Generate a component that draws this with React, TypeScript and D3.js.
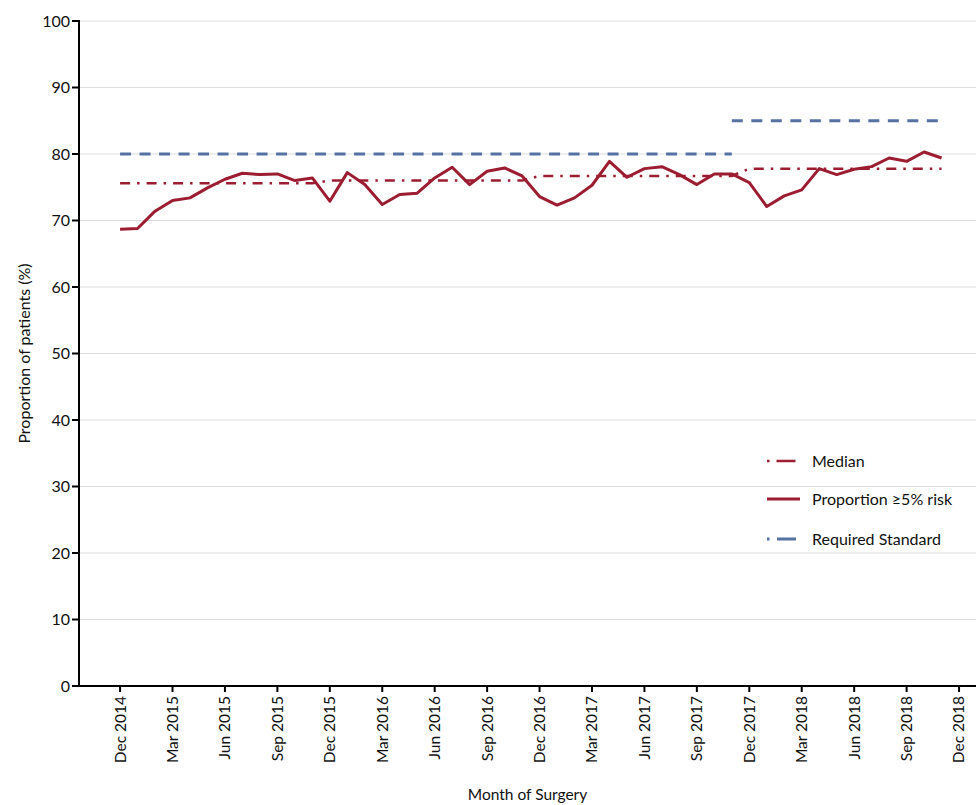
import React from "react";
import * as d3 from "d3";

// Monthly series, Dec 2014 (index 0) to Nov 2018 (index 47)
const proportion: number[] = [
  68.7, 68.8, 71.4, 73.0, 73.4, 74.9, 76.2, 77.1, 76.9, 77.0, 76.0, 76.4,
  72.9, 77.2, 75.4, 72.4, 73.9, 74.1, 76.4, 78.0, 75.4, 77.4, 77.9, 76.7,
  73.6, 72.3, 73.4, 75.3, 78.9, 76.5, 77.8, 78.1, 76.9, 75.4, 77.0, 77.0,
  75.7, 72.1, 73.7, 74.6, 77.8, 76.9, 77.7, 78.1, 79.4, 78.9, 80.3, 79.4,
];

// Median for each 12-month period (Dec–Nov)
const medianByYear: number[] = [75.6, 76.0, 76.7, 77.8];

// Required standard: [first month index, last month index, value]
const standardSegments: [number, number, number][] = [
  [0, 35, 80],
  [35, 47, 85],
];

const tickLabels: string[] = [
  "Dec 2014", "Mar 2015", "Jun 2015", "Sep 2015", "Dec 2015", "Mar 2016",
  "Jun 2016", "Sep 2016", "Dec 2016", "Mar 2017", "Jun 2017", "Sep 2017",
  "Dec 2017", "Mar 2018", "Jun 2018", "Sep 2018", "Dec 2018",
];

const yTicks: number[] = [0, 10, 20, 30, 40, 50, 60, 70, 80, 90, 100];

const W = 976;
const H = 805;
const left = 79;
const right = 976;
const top = 21;
const bottom = 686;

const RED = "#9c1c31";
const BLUE = "#5572a3";
const FONT = "Lato, 'Open Sans', sans-serif";
const MEDIAN_DASH = "10,7,2.5,7";
const STANDARD_DASH = "11,8.5";

export default function App() {
  const x = d3.scaleLinear().domain([-2.35, 48.97]).range([left, right]);
  const y = d3.scaleLinear().domain([0, 100]).range([bottom, top]);

  const line = d3
    .line<[number, number]>()
    .x((d) => x(d[0]))
    .y((d) => y(d[1]));

  const propPts: [number, number][] = proportion.map((v, i) => [i, v]);
  const medianPts: [number, number][] = proportion.map((_, i) => [
    i,
    medianByYear[Math.floor(i / 12)],
  ]);

  return (
    <svg
      width={W}
      height={H}
      style={{ position: "absolute", left: 0, top: 0, background: "#fff" }}
      fontFamily={FONT}
    >
      {/* gridlines */}
      {yTicks
        .filter((t) => t > 0)
        .map((t) => (
          <line
            key={"g" + t}
            x1={left}
            x2={right}
            y1={y(t)}
            y2={y(t)}
            stroke="#dedede"
            strokeWidth={1}
          />
        ))}

      {/* required standard */}
      {standardSegments.map(([a, b, v], k) => (
        <path
          key={"s" + k}
          d={line([[a, v], [b, v]]) || ""}
          fill="none"
          stroke={BLUE}
          strokeWidth={3}
          strokeDasharray={STANDARD_DASH}
        />
      ))}

      {/* median */}
      <path
        d={line(medianPts) || ""}
        fill="none"
        stroke={RED}
        strokeWidth={2.5}
        strokeDasharray={MEDIAN_DASH}
      />

      {/* proportion */}
      <path
        d={line(propPts) || ""}
        fill="none"
        stroke={RED}
        strokeWidth={3}
        strokeLinejoin="round"
      />

      {/* y axis */}
      <line x1={left} x2={left} y1={top - 1} y2={bottom + 1} stroke="#000" strokeWidth={2} />
      {yTicks.map((t) => (
        <g key={"y" + t}>
          <line x1={left - 7} x2={left} y1={y(t)} y2={y(t)} stroke="#000" strokeWidth={2} />
          <text
            x={left - 9}
            y={y(t)}
            dy="0.35em"
            textAnchor="end"
            fontSize={16}
            fill="#111"
          >
            {t}
          </text>
        </g>
      ))}

      {/* x axis */}
      <line x1={left - 6} x2={right} y1={bottom} y2={bottom} stroke="#000" strokeWidth={2} />
      {tickLabels.map((lab, k) => {
        const xi = x(k * 3);
        return (
          <g key={"x" + k}>
            <line x1={xi} x2={xi} y1={bottom} y2={bottom + 6} stroke="#000" strokeWidth={2} />
            <text
              transform={`translate(${xi},${bottom + 10}) rotate(-90)`}
              textAnchor="end"
              dy="0.35em"
              fontSize={15.5}
              fill="#111"
            >
              {lab}
            </text>
          </g>
        );
      })}

      {/* axis titles */}
      <text
        transform={`translate(${(left + right) / 2},800)`}
        textAnchor="middle"
        fontSize={15.5}
        fill="#111"
      >
        Month of Surgery
      </text>
      <text
        transform={`translate(30,${(top + bottom) / 2}) rotate(-90)`}
        textAnchor="middle"
        fontSize={16}
        fill="#111"
      >
        Proportion of patients (%)
      </text>

      {/* legend */}
      <g fontSize={16} fill="#111">
        <line x1={767} x2={799} y1={461} y2={461} stroke={RED} strokeWidth={2.5} strokeDasharray="2.5,7,19,20" />
        <text x={812} y={461} dy="0.35em">Median</text>
        <line x1={767} x2={800} y1={499} y2={499} stroke={RED} strokeWidth={3} />
        <text x={812} y={499} dy="0.35em">Proportion ≥5% risk</text>
        <line x1={767} x2={798} y1={539} y2={539} stroke={BLUE} strokeWidth={3} strokeDasharray="2.5,7.5,19,20" />
        <text x={812} y={539} dy="0.35em">Required Standard</text>
      </g>
    </svg>
  );
}
